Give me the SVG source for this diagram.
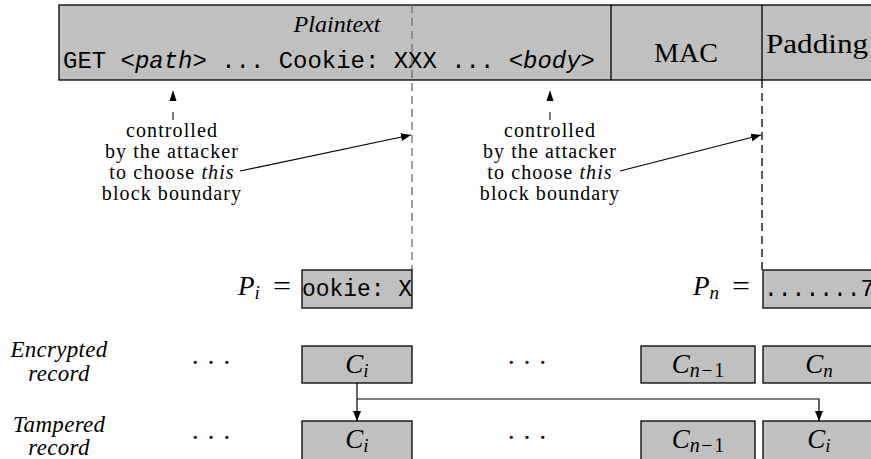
<svg xmlns="http://www.w3.org/2000/svg" width="871" height="459" viewBox="0 0 871 459">
<style>
  .box { fill: #c0c0c0; stroke: #000; stroke-width: 1.3; }
  .serif { font-family: "Liberation Serif", "Times New Roman", Times, serif; fill: #000; }
  .mono { font-family: "Liberation Mono", "Courier New", Courier, monospace; fill: #000; }
  .it { font-style: italic; }
  .note { font-family: "Liberation Serif", "Times New Roman", Times, serif; font-size: 20px; letter-spacing: 1.1px; text-anchor: middle; fill: #000; }
  .math { font-family: "Liberation Serif", "Times New Roman", Times, serif; font-size: 27px; fill: #000; }
  .conn { fill: none; stroke: #000; stroke-width: 1.2; }
  .bound { fill: none; stroke-width: 1.3; stroke-dasharray: 8 5; }
</style>
<defs>
  <marker id="arr" viewBox="0 0 10 8" refX="10" refY="4" markerWidth="10" markerHeight="8" markerUnits="userSpaceOnUse" orient="auto">
    <path d="M0,0 L10,4 L0,8 z" fill="#000"/>
  </marker>
</defs>
<rect width="871" height="459" fill="#fff"/>

<g id="record">
  <rect class="box" x="59" y="5" width="830" height="75"/>
  <line x1="611" y1="5" x2="611" y2="80" stroke="#000" stroke-width="1.3"/>
  <line x1="762" y1="5" x2="762" y2="80" stroke="#000" stroke-width="1.3"/>
  <text class="serif it" x="337" y="32" font-size="23" text-anchor="middle" textLength="87" lengthAdjust="spacingAndGlyphs">Plaintext</text>
  <text class="mono" x="63" y="68" font-size="24" textLength="532" lengthAdjust="spacingAndGlyphs">GET <tspan class="it">&lt;path&gt;</tspan> ... Cookie: XXX ... <tspan class="it">&lt;body&gt;</tspan></text>
  <text class="serif" x="686" y="61.5" font-size="28" text-anchor="middle">MAC</text>
  <text class="serif" x="766" y="53" font-size="28" textLength="102" lengthAdjust="spacingAndGlyphs">Padding</text>
</g>

<g id="boundaries">
  <line class="bound" x1="412" y1="5" x2="412" y2="270" stroke="#6e6e6e"/>
  <line class="bound" x1="762" y1="80" x2="762" y2="270" stroke="#000"/>
</g>

<g id="note1">
  <text class="note" x="172" y="136.5">controlled</text>
  <text class="note" x="172" y="157.5">by the attacker</text>
  <text class="note" x="172" y="178.5">to choose <tspan class="it">this</tspan></text>
  <text class="note" x="172" y="199.5">block boundary</text>
</g>
<g id="note2">
  <text class="note" x="550" y="136.5">controlled</text>
  <text class="note" x="550" y="157.5">by the attacker</text>
  <text class="note" x="550" y="178.5">to choose <tspan class="it">this</tspan></text>
  <text class="note" x="550" y="199.5">block boundary</text>
</g>

<g id="Pi">
  <text class="math" x="238" y="295"><tspan class="it">P</tspan><tspan class="it" font-size="19" dy="4">i</tspan></text>
  <text class="math" x="273" y="295" textLength="18" lengthAdjust="spacingAndGlyphs">=</text>
  <rect class="box" x="302" y="270" width="110" height="38"/>
  <text class="mono" x="302" y="296" font-size="23" textLength="110" lengthAdjust="spacingAndGlyphs">ookie: X</text>
</g>
<g id="Pn">
  <text class="math" x="693" y="295"><tspan class="it">P</tspan><tspan class="it" font-size="19" dy="4">n</tspan></text>
  <text class="math" x="732" y="295" textLength="18" lengthAdjust="spacingAndGlyphs">=</text>
  <rect class="box" x="763" y="270" width="120" height="38"/>
  <text class="mono" x="764" y="296" font-size="23">.......7</text>
</g>

<g id="row-labels">
  <text class="serif it" x="59" y="357" font-size="23" letter-spacing="0.3" text-anchor="middle">Encrypted</text>
  <text class="serif it" x="59" y="381" font-size="23" letter-spacing="0.3" text-anchor="middle">record</text>
  <text class="serif it" x="59" y="432" font-size="23" letter-spacing="0.3" text-anchor="middle">Tampered</text>
  <text class="serif it" x="59" y="455" font-size="23" letter-spacing="0.3" text-anchor="middle">record</text>
</g>

<g id="encrypted-row">
  <text class="math" x="211" y="372" text-anchor="middle">· · ·</text>
  <rect class="box" x="302" y="346" width="110" height="37"/>
  <text class="math" x="357" y="373" text-anchor="middle"><tspan class="it">C</tspan><tspan class="it" font-size="19" dy="4">i</tspan></text>
  <text class="math" x="527" y="372" text-anchor="middle">· · ·</text>
  <rect class="box" x="641" y="346" width="114" height="37"/>
  <text class="math" x="698" y="373" text-anchor="middle"><tspan class="it">C</tspan><tspan font-size="20" dy="4"><tspan class="it">n</tspan><tspan dx="1.5">−</tspan><tspan dx="1.5">1</tspan></tspan></text>
  <rect class="box" x="763" y="346" width="112" height="37"/>
  <text class="math" x="819" y="373" text-anchor="middle"><tspan class="it">C</tspan><tspan class="it" font-size="19" dy="4">n</tspan></text>
</g>

<g id="tampered-row">
  <text class="math" x="211" y="447" text-anchor="middle">· · ·</text>
  <rect class="box" x="302" y="421" width="110" height="40"/>
  <text class="math" x="357" y="448" text-anchor="middle"><tspan class="it">C</tspan><tspan class="it" font-size="19" dy="4">i</tspan></text>
  <text class="math" x="527" y="447" text-anchor="middle">· · ·</text>
  <rect class="box" x="641" y="421" width="114" height="40"/>
  <text class="math" x="698" y="448" text-anchor="middle"><tspan class="it">C</tspan><tspan font-size="20" dy="4"><tspan class="it">n</tspan><tspan dx="1.5">−</tspan><tspan dx="1.5">1</tspan></tspan></text>
  <rect class="box" x="763" y="421" width="112" height="40"/>
  <text class="math" x="819" y="448" text-anchor="middle"><tspan class="it">C</tspan><tspan class="it" font-size="19" dy="4">i</tspan></text>
</g>

<g id="connectors">
  <line x1="173" y1="120" x2="173" y2="112" stroke="#000" stroke-width="1"/>
  <path d="M173,90 L169.5,101 L176.5,101 z" fill="#000"/>
  <line x1="550" y1="120" x2="550" y2="112" stroke="#000" stroke-width="1"/>
  <path d="M550,90 L546.5,101 L553.5,101 z" fill="#000"/>
  <line class="conn" x1="240" y1="171" x2="411" y2="135" marker-end="url(#arr)"/>
  <line class="conn" x1="620" y1="171" x2="761" y2="135" marker-end="url(#arr)"/>
  <line class="conn" x1="357" y1="383" x2="357" y2="421" marker-end="url(#arr)"/>
  <path class="conn" d="M357,399 H819 V421" marker-end="url(#arr)"/>
</g>
</svg>
